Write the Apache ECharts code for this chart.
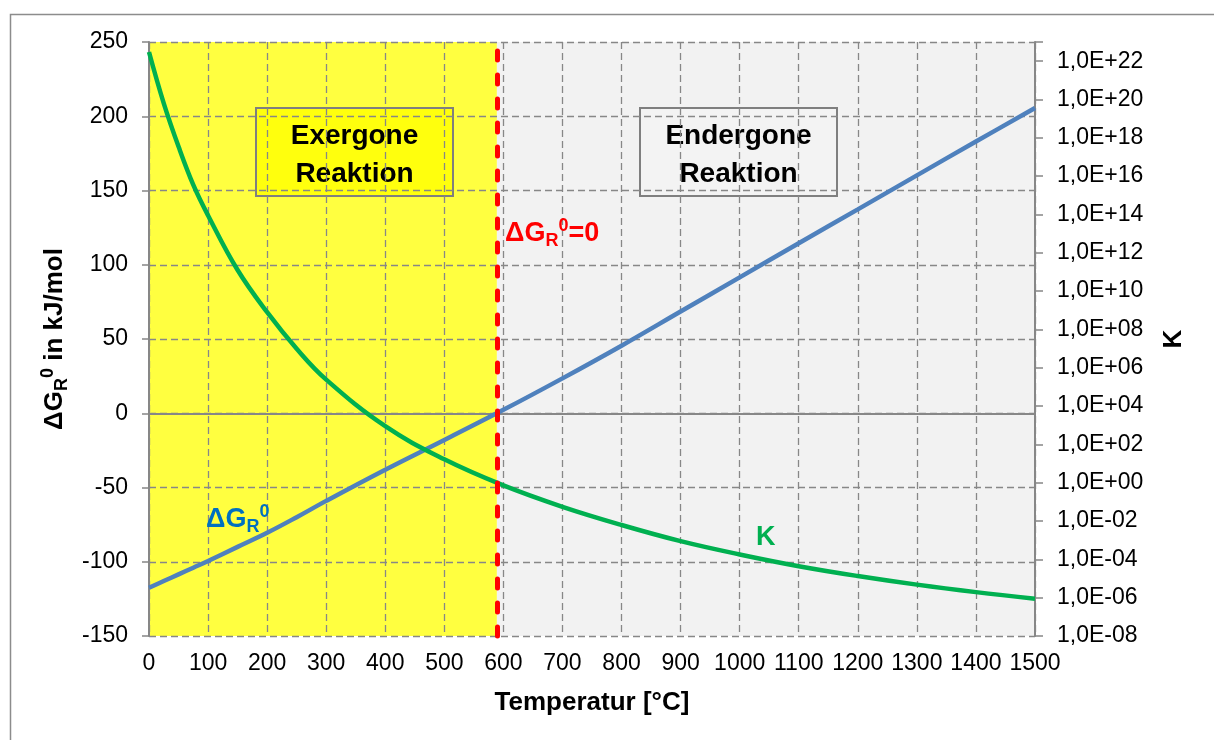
<!DOCTYPE html>
<html><head><meta charset="utf-8">
<script src="https://cdn.jsdelivr.net/npm/echarts@6/dist/echarts.min.js"></script>
<style>html,body{margin:0;padding:0;background:#fff}#c{width:1214px;height:740px}</style>
</head><body><div id="c"></div>
<script>
// ---- data ----
const temperatures = [0,25,50,75,100,150,200,250,300,400,500,600,700,800,900,1000,1100,1200,1300,1400,1500];
const deltaG = [-117.5,-113,-108.5,-104,-99.5,-90,-80.5,-70,-59,-38,-18,2.3,23.5,45.5,68.5,91.5,114.5,137.3,160.2,183,205.5];
const kValues = [3.0e22,6.3e19,3.5e17,3.5e15,8.9e13,1.26e11,7.9e8,9.8e6,2.4e5,890,16.6,0.72,0.055,6.2e-3,8.9e-4,1.8e-4,4.4e-5,1.35e-5,4.8e-6,1.95e-6,8.9e-7];
const equilibriumT = 589;
const regionLabels = ['Exergone\nReaktion', 'Endergone\nReaktion'];

const FONT = '"Liberation Sans", Arial, sans-serif';
const gridColor = '#878787';
const rich = (color, size, sub) => ({
  m: {fontSize: size, fontWeight: 'bold', color, fill: color, fontFamily: FONT, lineHeight: size + 6, verticalAlign: 'middle'},
  sb: {fontSize: sub, fontWeight: 'bold', color, fill: color, fontFamily: FONT, lineHeight: sub, verticalAlign: 'bottom'},
  sp: {fontSize: sub, fontWeight: 'bold', color, fill: color, fontFamily: FONT, lineHeight: sub, verticalAlign: 'top'}
});

const chart = echarts.init(document.getElementById('c'));
const dashed = {color: gridColor, width: 1.3, type: [7, 4]};

chart.setOption({
  animation: false,
  textStyle: {fontFamily: FONT},
  grid: {left: 149, right: 179, top: 42, bottom: 104, containLabel: false, outerBoundsMode: 'none'},
  xAxis: [{
    type: 'value', min: 0, max: 1500, interval: 100, position: 'bottom',
    axisLine: {show: false, onZero: false},
    axisTick: {show: false},
    axisLabel: {color: '#000', fontSize: 23, fontFamily: FONT, margin: 16, showMinLabel: true, showMaxLabel: true,
      formatter: v => String(v)},
    splitLine: {show: true, lineStyle: dashed},
    name: 'Temperatur [°C]', nameLocation: 'middle', nameGap: 54,
    nameTextStyle: {fontSize: 26, fontWeight: 'bold', color: '#000', fontFamily: FONT}
  }, {
    type: 'value', min: 0, max: 1500, interval: 100, position: 'bottom',
    axisLine: {show: true, onZero: true, onZeroAxisIndex: 0, lineStyle: {color: gridColor, width: 2}},
    axisTick: {show: false}, axisLabel: {show: false}, splitLine: {show: false}
  }],
  yAxis: [{
    type: 'value', min: -150, max: 250, interval: 50, position: 'left',
    axisLine: {show: true, onZero: false, lineStyle: {color: gridColor, width: 2}},
    axisTick: {show: true, length: 7, lineStyle: {color: gridColor, width: 1.5}},
    axisLabel: {color: '#000', fontSize: 23, fontFamily: FONT, margin: 21},
    splitLine: {show: true, lineStyle: dashed},
    name: '{m|ΔG}{sb|R}{sp|0}{m| in kJ/mol}', nameLocation: 'middle', nameRotate: 90, nameGap: 72,
    nameTextStyle: {rich: rich('#000', 26, 18)}
  }, {
    type: 'log', logBase: 10, min: 1e-8, max: 1e23, interval: 2, position: 'right',
    axisLine: {show: true, onZero: false, lineStyle: {color: gridColor, width: 2}},
    axisTick: {show: true, length: 8, lineStyle: {color: gridColor, width: 1.5}},
    axisLabel: {color: '#000', fontSize: 23, fontFamily: FONT, margin: 22,
      formatter: v => {
        const l = Math.log10(v); const e = Math.round(l);
        if (Math.abs(l - e) > 1e-6 || e % 2 !== 0) return '';
        return '1,0E' + (e < 0 ? '-' : '+') + String(Math.abs(e)).padStart(2, '0');
      }},
    splitLine: {show: false},
    name: 'K', nameLocation: 'middle', nameRotate: 90, nameGap: 126,
    nameTextStyle: {fontSize: 26, fontWeight: 'bold', color: '#000', fontFamily: FONT}
  }],
  series: [{
    type: 'line', name: 'background', data: [], z: -1, silent: true,
    markArea: {z: -1, silent: true, data: [
      [{xAxis: 0, itemStyle: {color: '#ffff40'}}, {xAxis: equilibriumT}],
      [{xAxis: equilibriumT, itemStyle: {color: '#f2f2f2'}}, {xAxis: 1500}]
    ]}
  }, {
    type: 'line', name: 'ΔG', xAxisIndex: 0, yAxisIndex: 0,
    data: temperatures.map((t, i) => [t, deltaG[i]]),
    smooth: 0.4, showSymbol: false, symbol: 'none',
    lineStyle: {color: '#4f81bd', width: 4.5},
    markLine: {silent: true, symbol: 'none', label: {show: false},
      lineStyle: {color: '#ff0000', width: 5, type: [9, 15], cap: 'round'},
      data: [{xAxis: equilibriumT}]}
  }, {
    type: 'line', name: 'K', xAxisIndex: 0, yAxisIndex: 1,
    data: temperatures.map((t, i) => [t, kValues[i]]),
    smooth: 0.4, showSymbol: false, symbol: 'none',
    lineStyle: {color: '#00b050', width: 4.5}
  }],
  graphic: [
    {type: 'rect', left: 8, top: 12, z: 0, shape: {width: 1240, height: 780}, style: {fill: 'none', stroke: '#8c8c8c', lineWidth: 1.5}, silent: true},
    {type: 'group', left: 255, top: 107, z: 20, children: [
      {type: 'rect', shape: {width: 197, height: 88}, style: {fill: 'rgba(255,255,0,0.8)', stroke: '#7f7f7f', lineWidth: 2}},
      {type: 'text', x: 98.5, y: 47, style: {text: regionLabels[0], align: 'center', verticalAlign: 'middle', font: 'bold 28px ' + FONT, lineHeight: 38, fill: '#000'}}
    ]},
    {type: 'group', left: 639, top: 107, z: 20, children: [
      {type: 'rect', shape: {width: 197, height: 88}, style: {fill: 'rgba(242,242,242,0.8)', stroke: '#7f7f7f', lineWidth: 2}},
      {type: 'text', x: 98.5, y: 47, style: {text: regionLabels[1], align: 'center', verticalAlign: 'middle', font: 'bold 28px ' + FONT, lineHeight: 38, fill: '#000'}}
    ]},
    {type: 'text', left: 505, top: 217, z: 20, style: {text: '{m|ΔG}{sb|R}{sp|0}{m|=0}', rich: rich('#ff0000', 27, 18)}},
    {type: 'text', left: 206, top: 503, z: 20, style: {text: '{m|ΔG}{sb|R}{sp|0}', rich: rich('#0070c0', 27, 18)}},
    {type: 'text', left: 756, top: 524, z: 20, style: {text: 'K', font: 'bold 27px ' + FONT, fill: '#00b050'}}
  ]
});
</script></body></html>
